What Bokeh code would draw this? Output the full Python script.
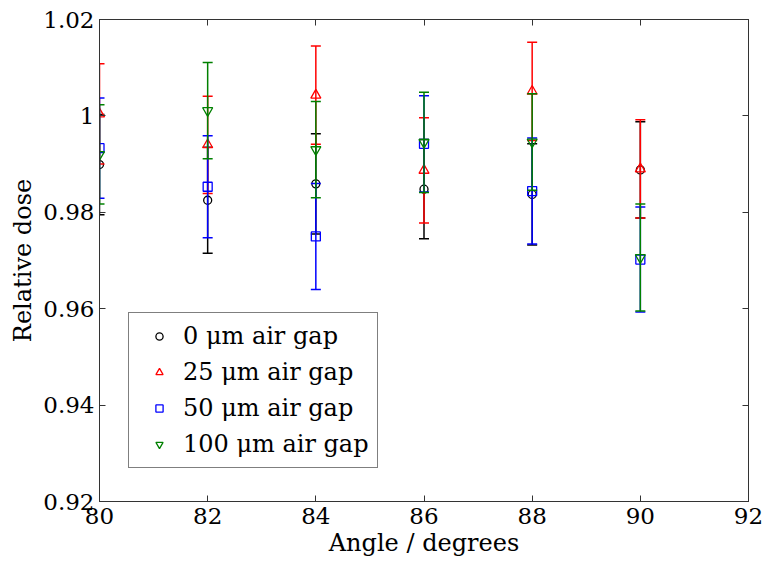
from bokeh.plotting import figure
from bokeh.models import (ColumnDataSource, FixedTicker, LinearAxis, Legend, LegendItem, Range1d)
from bokeh.embed import file_html
from bokeh.resources import INLINE

angles = [80, 82, 84, 86, 88, 90]
series_names = ["0 μm air gap", "25 μm air gap", "50 μm air gap", "100 μm air gap"]
mean_0 = [0.9899, 0.9825, 0.9859, 0.9848, 0.9837, 0.9888]
err_0 = [0.0104, 0.0110, 0.0104, 0.0103, 0.0105, 0.0100]
mean_25 = [1.0004, 0.9940, 1.0043, 0.9887, 1.0051, 0.9890]
err_25 = [0.0104, 0.0101, 0.0102, 0.0109, 0.0102, 0.0102]
mean_50 = [0.9933, 0.9853, 0.9750, 0.9942, 0.9844, 0.9702]
err_50 = [0.0104, 0.0106, 0.0110, 0.0100, 0.0110, 0.0109]
mean_100 = [0.9920, 1.0011, 0.9930, 0.9945, 0.9946, 0.9706]
err_100 = [0.0103, 0.0100, 0.0100, 0.0104, 0.0100, 0.0111]

x_ticks = [80, 82, 84, 86, 88, 90, 92]
y_ticks = [0.92, 0.94, 0.96, 0.98, 1.0, 1.02]
y_tick_labels = ["0.92", "0.94", "0.96", "0.98", "1", "1.02"]

FONT = "DejaVu Serif"
AXC = "#333333"

p = figure(width=765, height=564, output_backend="svg", toolbar_location=None,
           x_range=Range1d(80, 92), y_range=Range1d(0.92, 1.02),
           min_border_left=99, min_border_right=17, min_border_top=19, min_border_bottom=63)
p.background_fill_color = "white"
p.border_fill_color = "white"
p.outline_line_color = AXC
p.outline_line_width = 1
p.xgrid.visible = False
p.ygrid.visible = False

def style_axis(ax, labels=True):
    ax.axis_line_color = AXC
    ax.major_tick_line_color = AXC
    ax.major_tick_in = 6
    ax.major_tick_out = 0
    ax.minor_tick_line_color = None
    ax.major_label_text_font = FONT
    ax.major_label_text_font_size = "23px"
    ax.major_label_text_color = "black"
    ax.axis_label_text_font = FONT
    ax.axis_label_text_font_size = "24px"
    ax.axis_label_text_font_style = "normal"
    ax.axis_label_text_color = "black"
    if not labels:
        ax.major_label_text_font_size = "0px"
        ax.major_label_text_color = None

xax = p.xaxis[0]
yax = p.yaxis[0]
xax.ticker = FixedTicker(ticks=x_ticks)
yax.ticker = FixedTicker(ticks=y_ticks)
yax.major_label_overrides = {t: l for t, l in zip(y_ticks, y_tick_labels)}
style_axis(xax)
style_axis(yax)
xax.axis_label = "Angle / degrees"
yax.axis_label = "Relative dose"
xax.major_label_standoff = 6
yax.major_label_standoff = 5
xax.axis_label_standoff = 2
yax.axis_label_standoff = 3

top_ax = LinearAxis(ticker=FixedTicker(ticks=x_ticks))
right_ax = LinearAxis(ticker=FixedTicker(ticks=y_ticks))
style_axis(top_ax, labels=False)
style_axis(right_ax, labels=False)
p.add_layout(top_ax, "above")
p.add_layout(right_ax, "right")
p.min_border_top = 19
p.min_border_right = 17

series = [
    (mean_0, err_0, "black", "circle", 8),
    (mean_25, err_25, "red", "triangle", 10),
    (mean_50, err_50, "blue", "square", 9),
    (mean_100, err_100, "green", "inverted_triangle", 10),
]

items = []
for (m, e, col, mk, sz), name in zip(series, series_names):
    src = ColumnDataSource(dict(x=angles, y=m,
                                lo=[a - b for a, b in zip(m, e)],
                                hi=[a + b for a, b in zip(m, e)]))
    p.segment(x0="x", y0="lo", x1="x", y1="hi", source=src, line_color=col, line_width=1.5)
    p.scatter(x="x", y="lo", marker="dash", size=10, line_color=col, line_width=1.5, source=src)
    p.scatter(x="x", y="hi", marker="dash", size=10, line_color=col, line_width=1.5, source=src)
    r = p.scatter(x="x", y="y", marker=mk, size=sz, line_color=col, fill_color=None,
                  line_width=1.3, source=src)
    items.append(LegendItem(label=name, renderers=[r]))

legend = Legend(items=items, location=(29, 33))
legend.label_text_font = FONT
legend.label_text_font_size = "24px"
legend.label_text_color = "black"
legend.label_height = 30
legend.glyph_height = 18
legend.glyph_width = 44
legend.label_standoff = 2
legend.spacing = 6
legend.padding = 8
legend.margin = 0
legend.border_line_color = "black"
legend.border_line_width = 1
legend.background_fill_color = "white"
legend.background_fill_alpha = 1.0
p.add_layout(legend, "center")

open("out.html", "w").write(file_html(p, INLINE))
